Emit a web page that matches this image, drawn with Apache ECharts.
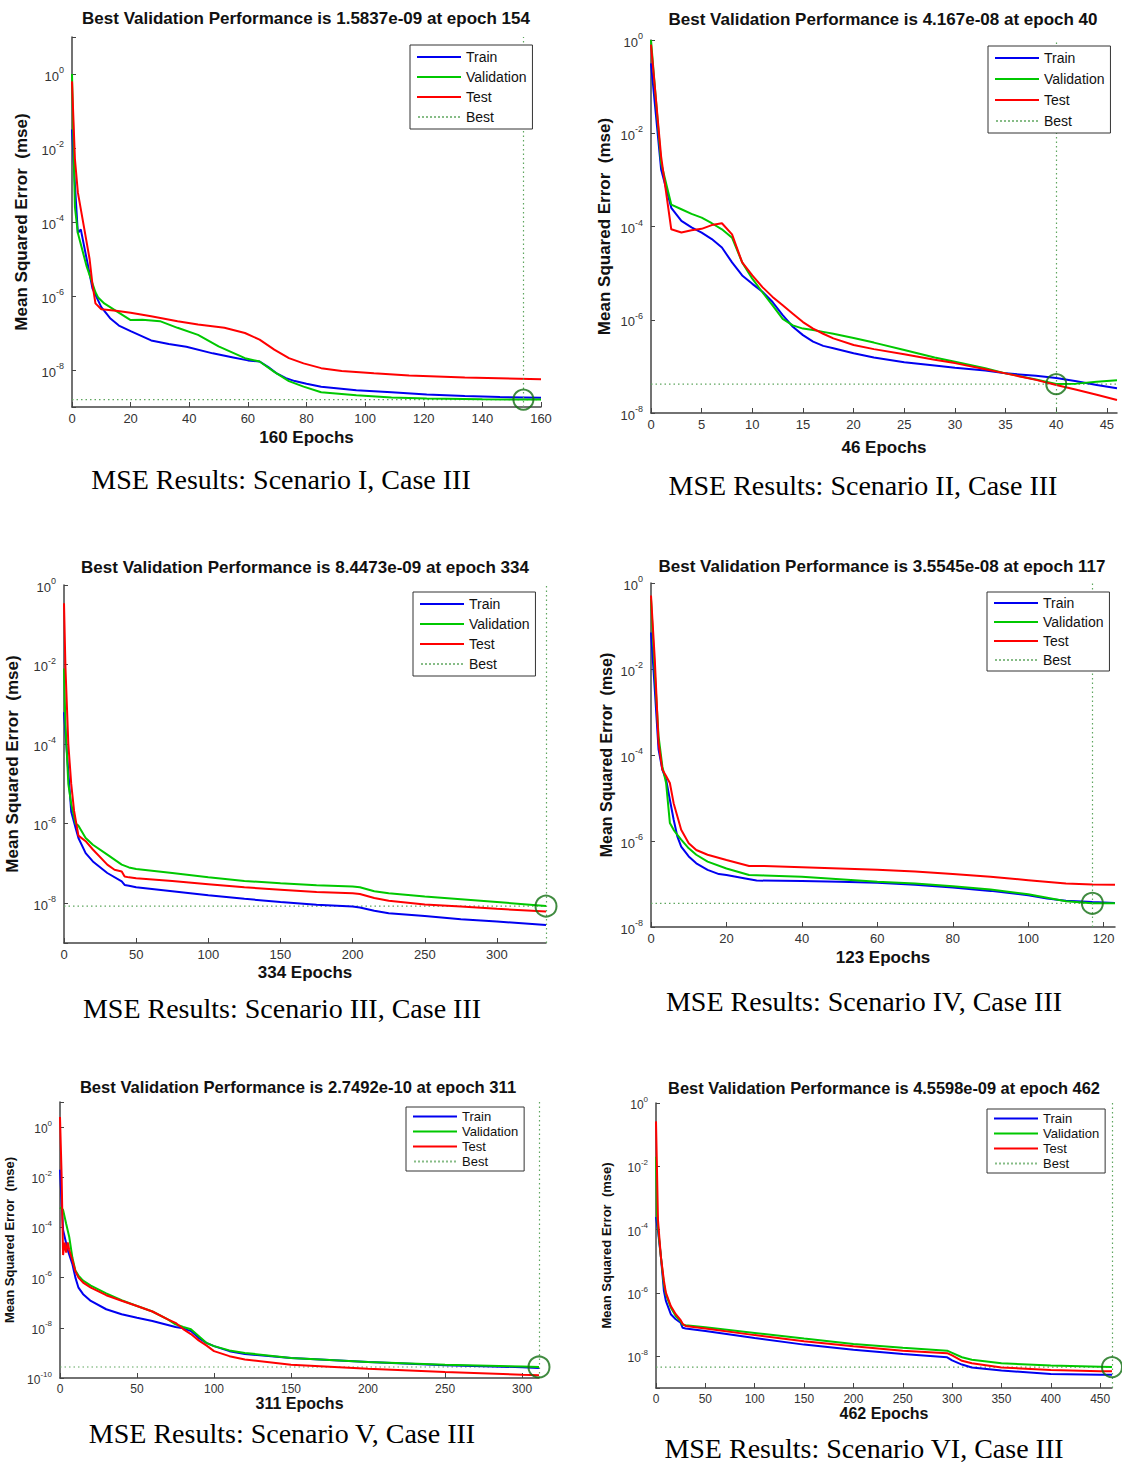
<!DOCTYPE html>
<html>
<head>
<meta charset="utf-8">
<script src="https://cdn.jsdelivr.net/npm/echarts@6/dist/echarts.min.js"></script>
<style>
  html, body { margin: 0; padding: 0; background: #fff; }
  #chart { width: 1122px; height: 1463px; }
</style>
</head>
<body>
<div id="chart"></div>
<script>
// Training records: [epoch, log10(MSE)] for each of the six scenarios.
const epochCounts = [160, 46, 334, 123, 311, 462];
const bestEpochs = [154, 40, 334, 117, 311, 462];
const bestValues = ['1.5837e-09', '4.167e-08', '8.4473e-09', '3.5545e-08', '2.7492e-10', '4.5598e-09'];
const captions = [
  'MSE Results: Scenario I, Case III',
  'MSE Results: Scenario II, Case III',
  'MSE Results: Scenario III, Case III',
  'MSE Results: Scenario IV, Case III',
  'MSE Results: Scenario V, Case III',
  'MSE Results: Scenario VI, Case III'
];
const seriesNames = ['Train', 'Validation', 'Test', 'Best'];

const train1 = [[0,-1.5],[1,-3.0],[2,-4.3],[3,-4.2],[5,-5.0],[7,-5.8],[10,-6.3],[13,-6.6],[16,-6.8],[20,-6.95],[27,-7.2],[33,-7.3],[39,-7.37],[48,-7.55],[55,-7.66],[60,-7.74],[64,-7.77],[67,-7.92],[70,-8.1],[73,-8.22],[76,-8.3],[80,-8.37],[85,-8.45],[97,-8.55],[109,-8.6],[121,-8.66],[134,-8.7],[146,-8.73],[160,-8.75]];
const valid1 = [[0,0.0],[1,-3.6],[2,-4.3],[5,-5.2],[8,-5.9],[9,-6.05],[11,-6.2],[15,-6.4],[20,-6.65],[24,-6.64],[30,-6.68],[36,-6.86],[43,-7.05],[50,-7.36],[59,-7.68],[64,-7.77],[69,-8.05],[74,-8.3],[79,-8.45],[85,-8.6],[97,-8.68],[109,-8.74],[121,-8.77],[140,-8.79],[154,-8.8],[160,-8.8]];
const test1 = [[0,-0.2],[1,-2.3],[2,-3.2],[4,-4.1],[6,-5.0],[7,-5.7],[8,-6.2],[10,-6.36],[15,-6.4],[20,-6.45],[27,-6.55],[36,-6.68],[43,-6.77],[52,-6.86],[59,-7.0],[64,-7.18],[69,-7.45],[74,-7.68],[79,-7.82],[85,-7.95],[92,-8.03],[103,-8.09],[115,-8.15],[134,-8.2],[160,-8.25]];

const train2 = [[0,-0.5],[1,-2.78],[2,-3.6],[3,-3.88],[4,-4.02],[5,-4.13],[6,-4.27],[7,-4.45],[8,-4.77],[9,-5.05],[10,-5.23],[11,-5.4],[12,-5.62],[13,-5.9],[14,-6.15],[15,-6.33],[16,-6.47],[17,-6.56],[18,-6.61],[20,-6.72],[22,-6.81],[25,-6.91],[28,-6.98],[30,-7.03],[33,-7.09],[35,-7.15],[38,-7.2],[40,-7.25],[42,-7.32],[44,-7.4],[46,-7.47]];
const valid2 = [[0,0],[1,-2.64],[2,-3.53],[3,-3.63],[4,-3.73],[5,-3.81],[6,-3.93],[7,-4.06],[8,-4.24],[9,-4.77],[10,-5.12],[11,-5.41],[12,-5.69],[13,-5.98],[14,-6.12],[15,-6.19],[16,-6.22],[17,-6.26],[18,-6.3],[20,-6.39],[22,-6.49],[25,-6.65],[28,-6.81],[30,-6.9],[33,-7.04],[35,-7.15],[38,-7.28],[40,-7.38],[42,-7.37],[44,-7.33],[46,-7.3]];
const test2 = [[0,-0.1],[1,-2.5],[2,-4.06],[3,-4.13],[4,-4.08],[5,-4.05],[6,-3.97],[7,-3.93],[8,-4.17],[9,-4.77],[10,-5.05],[11,-5.3],[12,-5.51],[13,-5.69],[14,-5.87],[15,-6.05],[16,-6.19],[17,-6.3],[18,-6.4],[20,-6.54],[22,-6.63],[25,-6.74],[28,-6.86],[30,-6.93],[33,-7.06],[35,-7.15],[38,-7.29],[40,-7.4],[42,-7.5],[44,-7.61],[46,-7.72]];

const train3 = [[0,-3.2],[2,-4.2],[5,-5.7],[8,-6.1],[10,-6.36],[15,-6.74],[20,-6.95],[30,-7.24],[40,-7.45],[42,-7.54],[45,-7.56],[50,-7.6],[75,-7.7],[100,-7.8],[125,-7.89],[150,-7.97],[175,-8.04],[200,-8.08],[205,-8.11],[215,-8.19],[225,-8.25],[250,-8.32],[275,-8.4],[300,-8.46],[334,-8.55]];
const valid3 = [[0,-2.1],[1,-3.5],[3,-5.0],[5,-5.5],[8,-6.0],[10,-6.05],[15,-6.36],[20,-6.53],[30,-6.78],[40,-7.03],[45,-7.1],[50,-7.14],[75,-7.24],[100,-7.35],[125,-7.44],[150,-7.5],[175,-7.55],[200,-7.58],[205,-7.6],[215,-7.7],[225,-7.75],[250,-7.83],[275,-7.9],[300,-7.97],[334,-8.07]];
const test3 = [[0,-0.46],[1,-2.06],[3,-4.0],[5,-5.0],[7,-5.68],[10,-6.3],[15,-6.44],[20,-6.65],[30,-7.03],[35,-7.16],[40,-7.2],[42,-7.33],[45,-7.35],[50,-7.37],[75,-7.44],[100,-7.52],[125,-7.6],[150,-7.66],[175,-7.72],[200,-7.75],[205,-7.77],[215,-7.87],[225,-7.94],[250,-8.03],[275,-8.08],[300,-8.14],[334,-8.21]];

const train4 = [[0,-1.15],[1,-2.47],[2,-3.87],[3,-4.34],[4,-4.57],[5,-5.04],[6,-5.5],[7,-5.9],[8,-6.13],[10,-6.36],[12,-6.52],[15,-6.67],[18,-6.77],[20,-6.79],[25,-6.87],[28,-6.92],[40,-6.93],[50,-6.95],[60,-6.97],[70,-7.02],[80,-7.08],[90,-7.16],[100,-7.26],[105,-7.34],[110,-7.39],[117,-7.42],[123,-7.44]];
const valid4 = [[0,-0.37],[1,-2.08],[2,-3.56],[3,-4.26],[4,-4.65],[5,-5.58],[6,-5.74],[7,-5.86],[8,-5.97],[10,-6.17],[12,-6.32],[15,-6.48],[20,-6.64],[26,-6.79],[30,-6.8],[40,-6.83],[50,-6.89],[60,-6.95],[70,-6.99],[80,-7.05],[90,-7.13],[100,-7.24],[105,-7.32],[110,-7.4],[117,-7.45],[123,-7.45]];
const test4 = [[0,-0.29],[1,-1.77],[2,-3.71],[3,-4.34],[4,-4.49],[5,-4.65],[6,-5.12],[7,-5.43],[8,-5.74],[10,-6.05],[12,-6.21],[15,-6.32],[20,-6.44],[26,-6.58],[30,-6.58],[40,-6.61],[50,-6.64],[60,-6.67],[70,-6.71],[80,-6.77],[90,-6.83],[100,-6.91],[110,-6.99],[117,-7.01],[123,-7.02]];

const train5 = [[0,-1.7],[2,-4.1],[5,-4.9],[8,-5.45],[10,-6.0],[12,-6.4],[15,-6.66],[20,-6.93],[30,-7.26],[40,-7.46],[50,-7.6],[60,-7.73],[70,-7.89],[75,-7.97],[80,-8.02],[85,-8.13],[90,-8.4],[95,-8.6],[100,-8.73],[110,-8.93],[120,-9.04],[150,-9.2],[200,-9.36],[250,-9.49],[300,-9.57],[311,-9.6]];
const valid5 = [[0,-3.2],[2,-3.3],[4,-3.85],[6,-4.38],[8,-5.19],[10,-5.72],[12,-5.92],[15,-6.12],[20,-6.32],[30,-6.63],[40,-6.9],[50,-7.13],[60,-7.35],[70,-7.66],[75,-7.86],[80,-7.97],[85,-8.06],[90,-8.33],[95,-8.6],[100,-8.73],[110,-8.9],[120,-9.0],[150,-9.2],[200,-9.36],[250,-9.47],[300,-9.54],[311,-9.56]];
const test5 = [[0,0.4],[1,-1.8],[2,-5.1],[3,-4.6],[4,-5.0],[5,-4.6],[6,-4.9],[8,-5.3],[10,-5.75],[12,-6.0],[15,-6.2],[20,-6.4],[30,-6.7],[40,-6.92],[50,-7.13],[60,-7.35],[70,-7.66],[75,-7.8],[80,-8.05],[85,-8.25],[90,-8.5],[95,-8.7],[100,-8.93],[110,-9.13],[120,-9.26],[150,-9.47],[200,-9.63],[250,-9.76],[300,-9.87],[311,-9.89]];

const train6 = [[0,-3.6],[2,-4.03],[5,-4.87],[8,-5.93],[10,-6.25],[15,-6.67],[20,-6.83],[25,-6.94],[27,-7.1],[30,-7.12],[50,-7.2],[100,-7.42],[150,-7.63],[200,-7.79],[250,-7.93],[295,-8.03],[300,-8.13],[310,-8.26],[320,-8.35],[350,-8.45],[400,-8.56],[450,-8.58],[462,-8.58]];
const valid6 = [[0,-1.7],[1,-3.5],[3,-4.24],[5,-4.87],[8,-5.72],[10,-6.04],[15,-6.46],[20,-6.73],[25,-6.89],[27,-7.0],[30,-7.02],[50,-7.08],[100,-7.26],[150,-7.44],[200,-7.61],[250,-7.73],[295,-7.82],[300,-7.89],[310,-8.03],[320,-8.11],[350,-8.22],[400,-8.29],[450,-8.33],[462,-8.34]];
const test6 = [[0,-0.58],[1,-2.12],[2,-3.7],[5,-4.87],[8,-5.61],[10,-5.99],[15,-6.41],[20,-6.67],[25,-6.86],[27,-6.97],[30,-7.04],[50,-7.12],[100,-7.33],[150,-7.52],[200,-7.68],[250,-7.82],[295,-7.9],[300,-7.97],[310,-8.14],[320,-8.22],[350,-8.35],[400,-8.43],[450,-8.47],[462,-8.47]];

const trainRuns = [train1, train2, train3, train4, train5, train6];
const validRuns = [valid1, valid2, valid3, valid4, valid5, valid6];
const testRuns = [test1, test2, test3, test4, test5, test6];

// Panel geometry and typography
const panels = [
  { grid: [72, 37, 469, 370],   xStep: 20, yMin: -9,  yMax: 1, title: [306, 18],   cap: [281, 479],  legend: [410, 45],   fs: 13, tfs: 17, xnfs: 17, ynfs: 17, yGap: 42, xGap: 22, legFs: 14, legGap: 6, legPad: 5, circle: 20 },
  { grid: [651, 40, 466, 373],  xStep: 5,  yMin: -8,  yMax: 0, title: [883, 19],   cap: [863, 485],  legend: [988, 46],   fs: 13, tfs: 17, xnfs: 17, ynfs: 17, yGap: 38, xGap: 26, legFs: 14, legGap: 7, legPad: 5, circle: 20 },
  { grid: [64, 585, 482, 358],  xStep: 50, yMin: -9,  yMax: 0, title: [305, 567],  cap: [282, 1008], legend: [413, 592],  fs: 13, tfs: 17, xnfs: 17, ynfs: 17, yGap: 43, xGap: 21, legFs: 14, legGap: 6, legPad: 5, circle: 21 },
  { grid: [651, 583, 464, 344], xStep: 20, yMin: -8,  yMax: 0, title: [882, 566],  cap: [864, 1001], legend: [987, 592],  fs: 13, tfs: 17, xnfs: 17, ynfs: 16, yGap: 37, xGap: 22, legFs: 14, legGap: 5, legPad: 4, circle: 21 },
  { grid: [60, 1102, 479, 276], xStep: 50, yMin: -10, yMax: 1, title: [298, 1087], cap: [282, 1433], legend: [406, 1107], fs: 12, tfs: 16.6, xnfs: 16, ynfs: 13, yGap: 44, xGap: 16, legFs: 13, legGap: 2, legPad: 3, circle: 21 },
  { grid: [656, 1103, 456, 285], xStep: 50, yMin: -9, yMax: 0, title: [884, 1088], cap: [864, 1448], legend: [987, 1109], fs: 12, tfs: 16.4, xnfs: 16, ynfs: 13, yGap: 43, xGap: 15, legFs: 13, legGap: 2, legPad: 3, circle: 20 }
];

const SANS = '"Liberation Sans", Arial, Helvetica, sans-serif';
const SERIF = '"Liberation Serif", "Times New Roman", serif';
const COLORS = { Train: '#0000f0', Validation: '#00c800', Test: '#ff0000', Best: '#5fa65f', circle: '#106e10' };
const AXIS_COLOR = '#444';

// Legend glyphs: solid strokes for the curves, a dotted stroke for the best marker
const SOLID_ICON = 'path://M0,0h44v2h-44z';
let dotted = 'path://';
for (let x = 0; x < 44; x += 4) dotted += 'M' + x + ',0h1.5v2h-1.5z';
const DOTTED_ICON = dotted;

const grids = [], xAxes = [], yAxes = [], legends = [], series = [], texts = [];

panels.forEach((p, i) => {
  const best = Math.log10(Number(bestValues[i]));
  const count = epochCounts[i];
  grids.push({ left: p.grid[0], top: p.grid[1], width: p.grid[2], height: p.grid[3], containLabel: false, outerBoundsMode: 'none' });

  xAxes.push({
    type: 'value', gridIndex: i, min: 0, max: count, interval: p.xStep,
    name: count + ' Epochs', nameLocation: 'middle', nameGap: p.xGap,
    nameTextStyle: { fontFamily: SANS, fontSize: p.xnfs, fontWeight: 'bold', color: '#111' },
    axisLine: { show: true, onZero: false, lineStyle: { color: AXIS_COLOR, width: 1.5 } },
    axisTick: { show: true, inside: true, length: 5, lineStyle: { color: AXIS_COLOR } },
    axisLabel: { fontFamily: SANS, fontSize: p.fs, color: '#333', margin: 5, showMaxLabel: count % p.xStep === 0 },
    splitLine: { show: false }
  });

  yAxes.push({
    type: 'value', gridIndex: i, min: p.yMin, max: p.yMax,
    name: 'Mean Squared Error  (mse)', nameLocation: 'middle', nameGap: p.yGap,
    nameTextStyle: { fontFamily: SANS, fontSize: p.ynfs, fontWeight: 'bold', color: '#111' },
    axisLine: { show: true, onZero: false, lineStyle: { color: AXIS_COLOR, width: 1.5 } },
    axisTick: { show: true, inside: true, length: 4, lineStyle: { color: AXIS_COLOR } },
    axisLabel: {
      margin: 8,
      formatter: v => {
        const n = Math.round(v);
        if (Math.abs(v - n) > 1e-6 || n % 2 !== 0) return '';
        return '{b|10}{s|' + n + '}';
      },
      rich: {
        b: { fontFamily: SANS, fontSize: p.fs, color: '#333', lineHeight: p.fs + 4, verticalAlign: 'bottom' },
        s: { fontFamily: SANS, fontSize: p.fs - 4, color: '#333', lineHeight: p.fs - 6, verticalAlign: 'top' }
      }
    },
    splitLine: { show: false }
  });

  legends.push({
    data: seriesNames.map(nm => ({ name: nm, icon: nm === 'Best' ? DOTTED_ICON : SOLID_ICON })),
    orient: 'vertical', left: p.legend[0], top: p.legend[1], z: 30,
    itemWidth: 44, itemHeight: 2, itemGap: p.legGap,
    padding: [p.legPad, 6, p.legPad, 7], borderColor: '#333', borderWidth: 1, backgroundColor: '#fff',
    textStyle: { fontFamily: SANS, fontSize: p.legFs, color: '#111' },
    selectedMode: false
  });

  const runs = [trainRuns[i], validRuns[i], testRuns[i]];
  ['Train', 'Validation', 'Test'].forEach((nm, k) => {
    series.push({
      type: 'line', name: nm, xAxisIndex: i, yAxisIndex: i, data: runs[k],
      symbol: 'none', showSymbol: false, smooth: false,
      lineStyle: { color: COLORS[nm], width: 2 }, itemStyle: { color: COLORS[nm] }, z: 2 + k
    });
  });

  series.push({
    type: 'line', name: 'Best', xAxisIndex: i, yAxisIndex: i,
    data: [[0, best], [count, best]], symbol: 'none', showSymbol: false,
    lineStyle: { color: COLORS.Best, width: 1.2, type: [1.5, 3] }, itemStyle: { color: COLORS.Best }, z: 1,
    markLine: {
      silent: true, symbol: 'none', label: { show: false },
      lineStyle: { color: COLORS.Best, width: 1.2, type: [1.5, 3] },
      data: [{ xAxis: bestEpochs[i] }]
    }
  });

  series.push({
    type: 'scatter', name: 'best epoch', xAxisIndex: i, yAxisIndex: i,
    data: [[bestEpochs[i], best]], symbol: 'circle', symbolSize: p.circle, clip: false,
    itemStyle: { color: 'rgba(0,0,0,0)', borderColor: COLORS.circle, borderWidth: 2 }, z: 6
  });

  texts.push({
    type: 'text', x: p.title[0], y: p.title[1], silent: true,
    style: {
      text: 'Best Validation Performance is ' + bestValues[i] + ' at epoch ' + bestEpochs[i],
      font: 'bold ' + p.tfs + 'px ' + SANS, fill: '#111',
      align: 'center', verticalAlign: 'middle', textAlign: 'center', textVerticalAlign: 'middle'
    }
  });
  texts.push({
    type: 'text', x: p.cap[0], y: p.cap[1], silent: true,
    style: {
      text: captions[i], font: '28px ' + SERIF, fill: '#000',
      align: 'center', verticalAlign: 'middle', textAlign: 'center', textVerticalAlign: 'middle'
    }
  });
});

const chart = echarts.init(document.getElementById('chart'), null, { renderer: 'svg' });
chart.setOption({
  animation: false,
  backgroundColor: '#fff',
  grid: grids,
  xAxis: xAxes,
  yAxis: yAxes,
  legend: legends,
  series: series,
  graphic: { elements: texts }
});
</script>
</body>
</html>
